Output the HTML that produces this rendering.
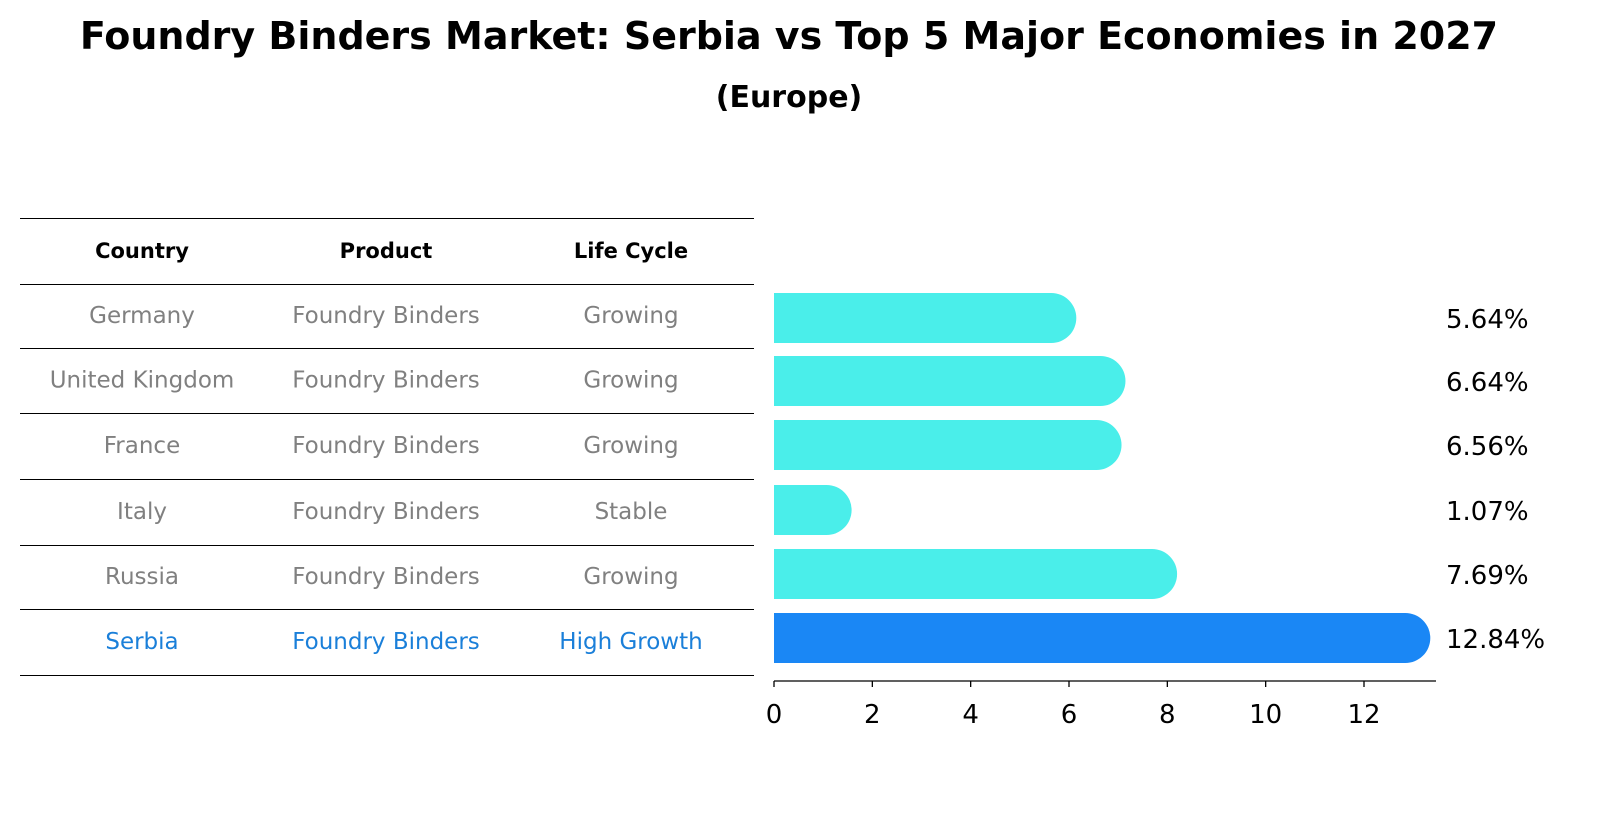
<!DOCTYPE html>
<html><head><meta charset="utf-8"><style>
body{margin:0;background:#fff;font-family:"Liberation Sans","DejaVu Sans",sans-serif;}
svg text{font-family:"DejaVu Sans","Liberation Sans",sans-serif;}
</style></head><body>
<svg width="1604" height="823" viewBox="0 0 1604 823" xmlns="http://www.w3.org/2000/svg" id="chart">
<text x="789" y="49" text-anchor="middle" font-size="38" font-weight="bold">Foundry Binders Market: Serbia vs Top 5 Major Economies in 2027</text>
<text x="789" y="107" text-anchor="middle" font-size="30" font-weight="bold">(Europe)</text>
<g id="table"></g>
<g id="bars"></g>
</svg>
<script>
const countries=["Germany","United Kingdom","France","Italy","Russia","Serbia"];
const products=["Foundry Binders","Foundry Binders","Foundry Binders","Foundry Binders","Foundry Binders","Foundry Binders"];
const lifeCycles=["Growing","Growing","Growing","Stable","Growing","High Growth"];
const values=[5.64,6.64,6.56,1.07,7.69,12.84];
const ticks=[0,2,4,6,8,10,12];
const NS="http://www.w3.org/2000/svg";
function mk(tag,attrs,parent,text){const e=document.createElementNS(NS,tag);for(const k in attrs)e.setAttribute(k,attrs[k]);if(text!==undefined)e.textContent=text;parent.appendChild(e);return e;}
const tbl=document.getElementById('table');
const lineYs=[218,284,348,413,479,545,609,675];
const colX=[142,386,631];
lineYs.forEach(y=>{const l=mk('line',{x1:20,x2:754,y1:y+0.5,y2:y+0.5,stroke:'#000','stroke-width':1,'shape-rendering':'crispEdges'},tbl);

});
["Country","Product","Life Cycle"].forEach((h,i)=>{const t=mk('text',{x:colX[i],y:251,'text-anchor':'middle','dominant-baseline':'central','font-size':21,'font-weight':'bold'},tbl,h);

});
countries.forEach((c,i)=>{const y=(lineYs[i+1]+lineYs[i+2])/2;const col=c==="Serbia"?'#1a7fd9':'#808080';
[c,products[i],lifeCycles[i]].forEach((v,j)=>{const t=mk('text',{x:colX[j],y:y,'text-anchor':'middle','dominant-baseline':'central','font-size':23,fill:col},tbl,v);

});});
const g=document.getElementById('bars');
const x0=774,unit=(1364-774)/12;const xs=v=>x0+v*unit;
const rowC=[318,381,445,510,574,638];const bh=50,r=25;
values.forEach((v,i)=>{const c=countries[i]==="Serbia"?'#1a87f5':'#4aeeea';const yc=rowC[i];
const p=mk('path',{d:`M${x0},${yc-bh/2} H${xs(v)} A${r},${r} 0 0 1 ${xs(v)},${yc+bh/2} H${x0} Z`,fill:c},g);


const t=mk('text',{x:1446,y:yc+2,'dominant-baseline':'central','font-size':26},g,v.toFixed(2)+'%');

});
const ax=mk('line',{x1:x0,x2:1436,y1:681,y2:681,stroke:'#000','stroke-width':1.3},g);


ticks.forEach(tv=>{const tk=mk('line',{x1:xs(tv),x2:xs(tv),y1:681,y2:687,stroke:'#000','stroke-width':1.3},g);


const tl=mk('text',{x:xs(tv),y:723,'text-anchor':'middle','font-size':26},g,tv);

});
</script>
</body></html>
